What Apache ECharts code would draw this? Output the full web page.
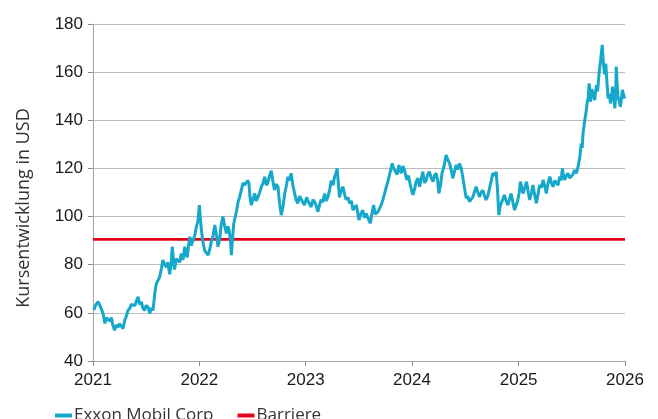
<!DOCTYPE html>
<html>
<head>
<meta charset="utf-8">
<script src="https://cdn.jsdelivr.net/npm/echarts@6/dist/echarts.min.js"></script>
<style>
  html, body { margin: 0; padding: 0; background: #fff; }
  #container { width: 658px; height: 419px; }
</style>
</head>
<body>
<div id="container"></div>
<script>
var dom = document.getElementById("container");
var myChart = echarts.init(dom);
var option;

// series names (legend)
var seriesNames = ["Exxon Mobil Corp", "Barriere"];
// year ticks on the x axis
var yearTicks = ["2021", "2022", "2023", "2024", "2025", "2026"];
// barrier level in USD
var barrierLevel = 90.5;

// price readings
var dates = [
  "2021-01-04","2021-01-11","2021-01-19","2021-01-25","2021-01-31","2021-02-05","2021-02-11","2021-02-16","2021-02-22","2021-02-28",
  "2021-03-05","2021-03-10","2021-03-16","2021-03-22","2021-03-28","2021-04-02","2021-04-08","2021-04-14","2021-04-20","2021-04-25",
  "2021-05-01","2021-05-08","2021-05-12","2021-05-18","2021-05-25","2021-05-30","2021-06-05","2021-06-10","2021-06-16","2021-06-21",
  "2021-06-27","2021-07-02","2021-07-09","2021-07-15","2021-07-20","2021-07-26","2021-08-01","2021-08-06","2021-08-12","2021-08-18",
  "2021-08-24","2021-08-29","2021-09-04","2021-09-10","2021-09-15","2021-09-21","2021-09-26","2021-09-30","2021-10-04","2021-10-08",
  "2021-10-14","2021-10-20","2021-10-26","2021-10-31","2021-11-06","2021-11-12","2021-11-16","2021-11-20","2021-11-25","2021-11-29",
  "2021-12-04","2021-12-10","2021-12-16","2021-12-22","2021-12-27","2022-01-01","2022-01-04","2022-01-08","2022-01-14","2022-01-19",
  "2022-01-25","2022-01-31","2022-02-05","2022-02-11","2022-02-17","2022-02-23","2022-03-01","2022-03-06","2022-03-12","2022-03-17",
  "2022-03-23","2022-03-29","2022-04-04","2022-04-09","2022-04-13","2022-04-18","2022-04-21","2022-04-25","2022-04-29","2022-05-08",
  "2022-05-14","2022-05-19","2022-05-25","2022-05-31","2022-06-05","2022-06-11","2022-06-16","2022-06-20","2022-06-24","2022-06-28",
  "2022-07-04","2022-07-10","2022-07-15","2022-07-21","2022-07-27","2022-08-02","2022-08-08","2022-08-13","2022-08-19","2022-08-24",
  "2022-08-30","2022-09-05","2022-09-10","2022-09-16","2022-09-22","2022-09-28","2022-10-03","2022-10-09","2022-10-15","2022-10-21",
  "2022-10-27","2022-11-01","2022-11-06","2022-11-12","2022-11-18","2022-11-24","2022-11-29","2022-12-05","2022-12-11","2022-12-17",
  "2022-12-22","2022-12-28","2023-01-04","2023-01-09","2023-01-15","2023-01-20","2023-01-26","2023-02-01","2023-02-06","2023-02-12",
  "2023-02-18","2023-02-23","2023-03-01","2023-03-07","2023-03-12","2023-03-18","2023-03-24","2023-03-30","2023-04-05","2023-04-10",
  "2023-04-15","2023-04-19","2023-04-23","2023-04-27","2023-05-03","2023-05-09","2023-05-15","2023-05-20","2023-05-26","2023-06-01",
  "2023-06-07","2023-06-12","2023-06-18","2023-06-24","2023-07-03","2023-07-09","2023-07-16","2023-07-22","2023-07-28","2023-08-04",
  "2023-08-11","2023-08-16","2023-08-22","2023-08-28","2023-09-06","2023-09-12","2023-09-17","2023-09-23","2023-09-29","2023-10-04",
  "2023-10-10","2023-10-17","2023-10-25","2023-10-30","2023-11-05","2023-11-11","2023-11-17","2023-11-25","2023-12-01","2023-12-06",
  "2023-12-14","2023-12-20","2023-12-26","2024-01-04","2024-01-10","2024-01-15","2024-01-21","2024-01-27","2024-02-02","2024-02-07",
  "2024-02-13","2024-02-19","2024-02-24","2024-03-01","2024-03-07","2024-03-13","2024-03-18","2024-03-24","2024-03-29","2024-04-02",
  "2024-04-08","2024-04-13","2024-04-20","2024-04-27","2024-05-03","2024-05-09","2024-05-15","2024-05-20","2024-05-26","2024-06-01",
  "2024-06-06","2024-06-12","2024-06-18","2024-06-23","2024-06-29","2024-07-05","2024-07-10","2024-07-16","2024-07-22","2024-07-28",
  "2024-08-03","2024-08-08","2024-08-14","2024-08-20","2024-08-25","2024-08-31","2024-09-05","2024-09-11","2024-09-17","2024-09-23",
  "2024-09-29","2024-10-04","2024-10-10","2024-10-16","2024-10-20","2024-10-25","2024-10-29","2024-11-02","2024-11-07","2024-11-13",
  "2024-11-19","2024-11-25","2024-11-30","2024-12-06","2024-12-12","2024-12-18","2024-12-23","2024-12-29","2025-01-03","2025-01-07",
  "2025-01-12","2025-01-16","2025-01-22","2025-01-28","2025-02-03","2025-02-08","2025-02-14","2025-02-19","2025-02-25","2025-03-03",
  "2025-03-08","2025-03-14","2025-03-20","2025-03-26","2025-04-01","2025-04-06","2025-04-12","2025-04-18","2025-04-23","2025-04-29",
  "2025-05-05","2025-05-11","2025-05-16","2025-05-22","2025-05-27","2025-05-31","2025-06-04","2025-06-08","2025-06-14","2025-06-19",
  "2025-06-25","2025-07-01","2025-07-06","2025-07-12","2025-07-18","2025-07-24","2025-07-30","2025-08-04","2025-08-07","2025-08-10",
  "2025-08-16","2025-08-20","2025-08-24","2025-08-28","2025-08-31","2025-09-03","2025-09-05","2025-09-08","2025-09-11","2025-09-15",
  "2025-09-19","2025-09-22","2025-09-25","2025-09-29","2025-10-04","2025-10-08","2025-10-12","2025-10-15","2025-10-18","2025-10-21",
  "2025-10-24","2025-10-27","2025-10-31","2025-11-04","2025-11-08","2025-11-12","2025-11-16","2025-11-19","2025-11-23","2025-11-27",
  "2025-11-30","2025-12-02","2025-12-05","2025-12-08","2025-12-12","2025-12-16","2025-12-20","2025-12-23","2025-12-26","2025-12-28",
  "2025-12-31"
];
var prices = [
  61.2, 63.5, 64.6, 63.0, 62.5, 59.5, 55.6, 58.0, 58.5, 56.5,
  58.0, 55.0, 52.8, 55.0, 54.0, 55.5, 54.5, 53.5, 57.0, 58.5,
  61.0, 62.0, 63.5, 64.0, 63.0, 65.0, 66.7, 63.5, 64.6, 62.0,
  61.0, 63.0, 62.5, 59.8, 62.0, 61.0, 68.0, 72.0, 73.5, 75.0,
  78.5, 82.0, 80.0, 79.0, 81.0, 76.0, 80.0, 87.5, 82.0, 78.0,
  82.5, 83.0, 81.0, 84.7, 82.0, 87.5, 85.0, 83.0, 88.0, 91.6,
  88.0, 90.0, 92.0, 95.8, 98.0, 104.8, 100.0, 94.4, 89.0, 86.0,
  86.5, 84.0, 86.0, 89.5, 92.0, 96.5, 92.0, 87.5, 91.0, 96.5,
  100.0, 96.0, 93.0, 96.0, 94.4, 90.0, 84.0, 91.0, 97.0, 102.0,
  106.0, 108.0, 111.0, 114.0, 113.0, 112.4, 115.0, 114.0, 108.0, 104.8,
  107.0, 109.6, 106.5, 108.0, 110.0, 112.4, 114.0, 116.5, 113.0, 114.0,
  117.0, 119.0, 115.0, 111.0, 113.5, 112.4, 106.0, 100.6, 104.0, 109.6,
  113.0, 116.5, 115.0, 118.0, 113.0, 109.6, 107.0, 105.5, 108.5, 108.0,
  106.0, 104.8, 108.0, 107.5, 105.0, 104.0, 107.0, 106.0, 104.5, 102.0,
  105.0, 107.0, 106.0, 109.6, 106.5, 108.0, 111.0, 115.0, 113.0, 116.5,
  118.0, 120.0, 114.0, 108.0, 111.0, 112.4, 109.0, 107.0, 108.0, 105.5,
  106.5, 102.7, 103.5, 104.8, 98.6, 101.0, 102.7, 99.5, 101.3, 99.0,
  97.2, 101.0, 104.8, 101.0, 102.0, 103.5, 104.8, 107.0, 109.6, 112.0,
  114.5, 118.0, 122.1, 120.0, 119.3, 117.5, 121.4, 118.0, 121.0, 119.3,
  115.2, 117.0, 113.1, 109.0, 111.5, 114.5, 116.0, 112.4, 116.0, 118.6,
  114.0, 115.2, 117.5, 118.6, 116.0, 114.5, 117.0, 118.0, 115.0, 109.6,
  113.0, 118.0, 121.0, 125.6, 123.5, 122.1, 119.0, 115.9, 119.0, 121.4,
  119.5, 122.1, 120.0, 116.6, 112.0, 107.6, 108.5, 106.2, 107.0, 108.2,
  110.5, 112.4, 110.0, 108.2, 110.0, 111.0, 109.0, 106.9, 108.5, 111.7,
  115.0, 118.0, 117.0, 118.6, 112.0, 100.6, 104.0, 105.5, 107.0, 109.0,
  106.5, 104.8, 107.0, 109.6, 106.0, 102.7, 104.5, 106.9, 110.0, 114.5,
  112.0, 109.6, 112.0, 114.5, 110.0, 106.9, 110.0, 113.1, 109.0, 105.5,
  109.0, 113.1, 112.0, 115.2, 112.5, 109.6, 114.0, 116.6, 114.0, 112.4,
  115.0, 114.5, 113.0, 116.6, 115.0, 120.0, 117.0, 115.2, 117.0, 118.0,
  116.0, 115.2, 117.5, 119.3, 118.0, 120.7, 124.9, 130.4, 128.5, 134.6,
  140.1, 143.0, 147.0, 150.0, 155.3, 150.0, 147.7, 153.0, 151.9, 150.0,
  148.4, 152.0, 154.6, 152.0, 159.5, 163.6, 168.0, 171.3, 165.0, 160.9,
  159.0, 163.6, 156.0, 149.1, 151.0, 147.0, 150.0, 154.0, 150.0, 145.0,
  150.0, 162.3, 155.0, 149.8, 148.0, 145.6, 149.0, 152.6, 151.0, 150.5,
  149.0
];

var lineColor = "#16A8CB";
var barrierColor = "#E3061A";

// local-time timestamp from "YYYY-MM-DD"
function toStamp(s) {
  var p = s.split("-");
  return new Date(Number(p[0]), Number(p[1]) - 1, Number(p[2])).getTime();
}

var yearStamps = yearTicks.map(function (y) {
  return toStamp(y + "-01-01");
});

var priceData = dates.map(function (d, i) {
  return [toStamp(d), prices[i]];
});
var barrierData = [
  [yearStamps[0], barrierLevel],
  [yearStamps[yearStamps.length - 1], barrierLevel]
];

option = {
  animation: false,
  grid: {
    left: 93,
    right: 33,
    top: 24,
    bottom: 58
  },
  legend: {
    left: 50,
    top: 402,
    itemGap: 24,
    itemWidth: 17,
    itemHeight: 4,
    icon: "rect",
    data: seriesNames,
    textStyle: {
      fontFamily: "Open Sans",
      fontSize: 17,
      color: "#333333",
      padding: [0, 0, 0, -3]
    }
  },
  graphic: [
    {
      type: "text",
      x: 24,
      y: 208,
      rotation: Math.PI / 2,
      style: {
        text: "Kursentwicklung in USD",
        fontFamily: "Open Sans",
        fontSize: 18,
        fill: "#333333",
        align: "center",
        verticalAlign: "middle"
      }
    }
  ],
  xAxis: {
    type: "value",
    min: yearStamps[0],
    max: yearStamps[yearStamps.length - 1],
    splitLine: { show: false },
    axisLine: { lineStyle: { color: "#A6A6A6", width: 1 } },
    axisTick: {
      show: true,
      length: 5,
      customValues: yearStamps,
      lineStyle: { color: "#8C8C8C" }
    },
    axisLabel: {
      customValues: yearStamps,
      margin: 11,
      fontFamily: "Liberation Sans",
      fontSize: 17,
      color: "#1a1a1a",
      formatter: function (v) {
        return String(new Date(v).getFullYear());
      }
    }
  },
  yAxis: {
    type: "value",
    min: 40,
    max: 180,
    interval: 20,
    axisLine: { show: true, lineStyle: { color: "#A6A6A6", width: 1 } },
    axisTick: { show: true, length: 5, lineStyle: { color: "#8C8C8C" } },
    splitLine: { lineStyle: { color: "#BDBDBD", width: 1 } },
    axisLabel: {
      margin: 10,
      fontFamily: "Liberation Sans",
      fontSize: 17,
      color: "#1a1a1a"
    }
  },
  series: [
    {
      name: seriesNames[0],
      type: "line",
      data: priceData,
      showSymbol: false,
      symbol: "none",
      lineStyle: { color: lineColor, width: 3 },
      itemStyle: { color: lineColor },
      z: 3
    },
    {
      name: seriesNames[1],
      type: "line",
      data: barrierData,
      showSymbol: false,
      symbol: "none",
      lineStyle: { color: barrierColor, width: 2.8 },
      itemStyle: { color: barrierColor },
      z: 2
    }
  ]
};

myChart.setOption(option);
</script>
</body>
</html>
